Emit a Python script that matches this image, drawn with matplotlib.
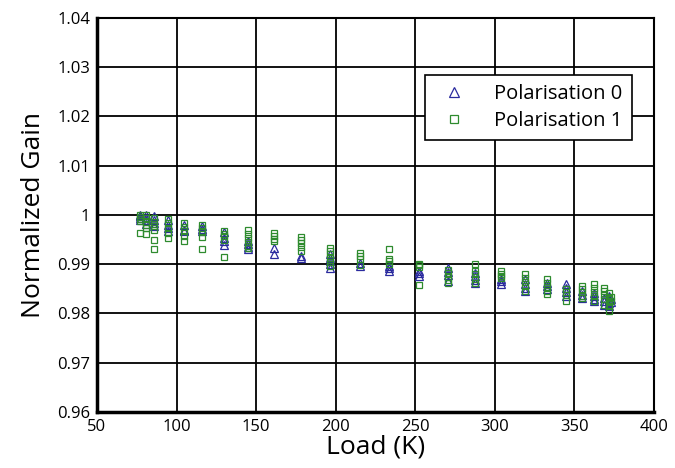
import numpy as np
import matplotlib
matplotlib.use('Agg')
import matplotlib.pyplot as plt
from matplotlib.ticker import FuncFormatter

# 부하 온도 (K)
loads = [77, 80.5, 86, 94.5, 104.5, 116, 129.7, 145, 161.5, 178.2, 196.5, 215,
         233.7, 252.4, 270.4, 287.5, 304, 319, 332.6, 344.6, 354.6, 362.4,
         368.3, 371.5, 372.8]

# 편광 0 정규화 이득
gain_p0 = [
    [1.0000, 0.9997, 0.9993, 0.9989],
    [0.9999, 0.9994, 0.9989, 0.9982],
    [0.9998, 0.9989, 0.9984, 0.9977],
    [0.9990, 0.9980, 0.9974, 0.9967],
    [0.9980, 0.9970, 0.9967],
    [0.9977, 0.9972, 0.9967],
    [0.9965, 0.9953, 0.9947, 0.9938],
    [0.9947, 0.9940, 0.9935, 0.9930],
    [0.9933, 0.9920],
    [0.9917, 0.9913],
    [0.9920, 0.9913, 0.9907, 0.9901, 0.9893],
    [0.9903, 0.9896],
    [0.9896, 0.9892, 0.9886],
    [0.9886, 0.9882, 0.9876],
    [0.9893, 0.9885, 0.9877, 0.9866],
    [0.9883, 0.9876, 0.9868, 0.9862],
    [0.9869, 0.9865, 0.9859],
    [0.9869, 0.9860, 0.9852, 0.9846],
    [0.9862, 0.9856, 0.9849],
    [0.9859, 0.9852, 0.9844, 0.9835],
    [0.9846, 0.9838, 0.9832],
    [0.9842, 0.9835, 0.9830, 0.9825],
    [0.9832, 0.9826, 0.9818],
    [0.9835, 0.9828, 0.9822, 0.9815],
    [0.9830, 0.9824],
]

# 편광 1 정규화 이득
gain_p1 = [
    [1.0000, 0.9996, 0.9992, 0.9988, 0.9964],
    [1.0000, 0.9993, 0.9986, 0.9980, 0.9974, 0.9962],
    [0.9994, 0.9986, 0.9978, 0.9970, 0.9950, 0.9931],
    [0.9992, 0.9984, 0.9974, 0.9964, 0.9954],
    [0.9984, 0.9976, 0.9968, 0.9957, 0.9947],
    [0.9980, 0.9974, 0.9966, 0.9955, 0.9930],
    [0.9967, 0.9962, 0.9957, 0.9950, 0.9915],
    [0.9970, 0.9962, 0.9953, 0.9945, 0.9937, 0.9933],
    [0.9964, 0.9957, 0.9951, 0.9947],
    [0.9955, 0.9949, 0.9943, 0.9935, 0.9927],
    [0.9933, 0.9927, 0.9921, 0.9913, 0.9905, 0.9897],
    [0.9923, 0.9917, 0.9910, 0.9899],
    [0.9931, 0.9911, 0.9906, 0.9901],
    [0.9901, 0.9898, 0.9895, 0.9857],
    [0.9889, 0.9883, 0.9874, 0.9868, 0.9861],
    [0.9901, 0.9887, 0.9879, 0.9870, 0.9862],
    [0.9886, 0.9880, 0.9876, 0.9871],
    [0.9879, 0.9872, 0.9864, 0.9856, 0.9846],
    [0.9869, 0.9861, 0.9853, 0.9846, 0.9839],
    [0.9850, 0.9843, 0.9838, 0.9825],
    [0.9856, 0.9849, 0.9843, 0.9836, 0.9832],
    [0.9859, 0.9852, 0.9844, 0.9836, 0.9825],
    [0.9852, 0.9845, 0.9838, 0.9830, 0.9818],
    [0.9842, 0.9832, 0.9824, 0.9815, 0.9805],
    [0.9834, 0.9826],
]

x_ticks = [50, 100, 150, 200, 250, 300, 350, 400]
y_ticks = [0.96, 0.97, 0.98, 0.99, 1.00, 1.01, 1.02, 1.03, 1.04]

def flatten(gains):
    xs = np.repeat(loads, [len(g) for g in gains])
    ys = np.concatenate([np.array(g) for g in gains])
    return xs, ys

x0, y0 = flatten(gain_p0)
x1, y1 = flatten(gain_p1)

plt.rcParams['font.family'] = ['Open Sans', 'DejaVu Sans']

fig = plt.figure(figsize=(6.75, 4.68), dpi=100)
ax = fig.add_axes([0.1437, 0.12, 0.8252, 0.8415])

ax.plot(x0, y0, linestyle='none', marker='^', ms=5.5, mfc='none',
        mec='#2a2a9e', mew=0.9, label='Polarisation 0', zorder=3)
ax.plot(x1, y1, linestyle='none', marker='s', ms=4.5, mfc='none',
        mec='#2e8b2e', mew=0.9, label='Polarisation 1', zorder=3)

ax.set_xlim(50, 400)
ax.set_ylim(0.96, 1.04)
ax.set_xticks(x_ticks)
ax.set_yticks(y_ticks)
ax.yaxis.set_major_formatter(FuncFormatter(lambda v, p: '%g' % round(v, 2)))
ax.grid(True, color='black', linewidth=1.3)
ax.set_axisbelow(True)
ax.tick_params(length=0, labelsize=12, pad=5)

for side in ['left', 'bottom']:
    ax.spines[side].set_linewidth(2.5)
for side in ['top', 'right']:
    ax.spines[side].set_linewidth(1.5)

ax.set_xlabel('Load (K)', fontsize=19, labelpad=0)
ax.set_ylabel('Normalized Gain', fontsize=19, labelpad=8)

leg = ax.legend(loc='upper right', bbox_to_anchor=(0.978, 0.882), fontsize=14.5,
                frameon=True, fancybox=False, edgecolor='black',
                framealpha=1, handletextpad=1.0, borderpad=0.45,
                labelspacing=0.35, markerscale=1.35)
leg.get_frame().set_linewidth(1.2)

fig.savefig('out.png', dpi=100)
